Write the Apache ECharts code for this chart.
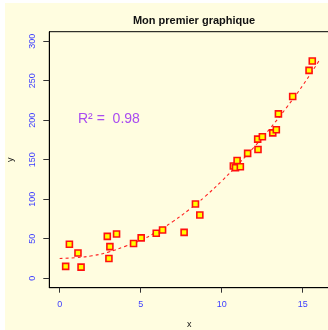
<!DOCTYPE html>
<html>
<head>
<meta charset="utf-8">
<script src="https://cdn.jsdelivr.net/npm/echarts@6/dist/echarts.min.js"></script>
<style>
  html, body { margin: 0; padding: 0; background: #ffffff; }
  #chart { width: 328px; height: 330px; }
</style>
</head>
<body>
<div id="chart"></div>
<script>
// Observed points
const xValues = [0.37, 0.6, 1.13, 1.32, 2.94, 3.04, 3.1, 3.51, 4.56, 5.03, 5.96, 6.35, 7.68, 8.38, 8.65,
                 10.72, 10.85, 10.95, 11.15, 11.6, 12.24, 12.22, 12.51, 13.15, 13.37, 13.5, 14.38, 15.39, 15.59];
const yValues = [15, 43, 32, 14, 53, 25, 40, 56, 44, 51, 57, 61, 58, 94, 80,
                 142, 140, 149, 141, 158, 163, 176, 179, 184, 188, 208, 230, 263, 275];

// Fitted trend (quadratic), sampled along x
const fitX = [0, 1, 2, 3, 4, 5, 6, 7, 8, 9, 10, 11, 12, 13, 14, 15, 16];
const fitY = [25, 26, 28.5, 33, 40, 48, 59, 72, 87, 104, 123, 144, 166, 190, 216, 244, 275];

// Axis ticks
const xTicks = [0, 5, 10, 15];
const yTicks = [0, 50, 100, 150, 200, 250, 300];

const titleText = 'Mon premier graphique';
const r2Text = 'R\u00B2 =  0.98';

const points = xValues.map((x, i) => [x, yValues[i]]);
const fit = fitX.map((x, i) => [x, fitY[i]]);

const font = '"Liberation Sans", Arial, sans-serif';
const tickBlue = '#3c3cff';

const chart = echarts.init(document.getElementById('chart'), null, { renderer: 'canvas' });
chart.setOption({
  animation: false,
  backgroundColor: 'transparent',
  textStyle: { fontFamily: font },
  graphic: [
    { type: 'rect', z: -10, silent: true,
      shape: { x: 5, y: 3, width: 330, height: 330 },
      style: { fill: '#fffde0' } },
    { type: 'text', left: 78, top: 112,
      style: { text: r2Text, fill: '#a94cf0', font: '14px ' + font } }
  ],
  title: {
    text: titleText,
    left: 189, top: 10, textAlign: 'center',
    textStyle: { fontSize: 11, fontWeight: 'bold', color: '#111', fontFamily: font }
  },
  grid: {
    left: 49.3, top: 31.7, width: 280, height: 256,
    outerBoundsMode: 'none', containLabel: false,
    show: true, borderColor: '#000', borderWidth: 1, backgroundColor: 'transparent'
  },
  xAxis: {
    type: 'value', min: -0.64, max: 16.64,
    name: 'x', nameLocation: 'middle', nameGap: 32,
    nameTextStyle: { fontSize: 9, color: '#111' },
    axisLine: { show: true, onZero: false, lineStyle: { color: '#000', width: 1 } },
    axisTick: { show: true, length: 5, customValues: xTicks, lineStyle: { color: '#333' } },
    axisLabel: { customValues: xTicks, color: tickBlue, fontSize: 9, margin: 12 },
    splitLine: { show: false }
  },
  yAxis: {
    type: 'value', min: -12, max: 312,
    name: 'y', nameLocation: 'middle', nameGap: 34,
    nameTextStyle: { fontSize: 9, color: '#111' },
    axisLine: { show: true, onZero: false, lineStyle: { color: '#000', width: 1 } },
    axisTick: { show: true, length: 6, customValues: yTicks, lineStyle: { color: '#333' } },
    axisLabel: { customValues: yTicks, color: tickBlue, fontSize: 9, margin: 12, rotate: 90 },
    splitLine: { show: false }
  },
  series: [
    {
      type: 'line', data: fit, smooth: true, showSymbol: false, symbol: 'none',
      lineStyle: { color: '#ff2020', width: 1.1, type: [3, 3] }, z: 2
    },
    {
      type: 'scatter', data: points, symbol: 'rect', symbolSize: 6,
      itemStyle: { color: '#ffff00', borderColor: '#ff1010', borderWidth: 1.6, opacity: 1 }, z: 3
    }
  ]
});
</script>
</body>
</html>
